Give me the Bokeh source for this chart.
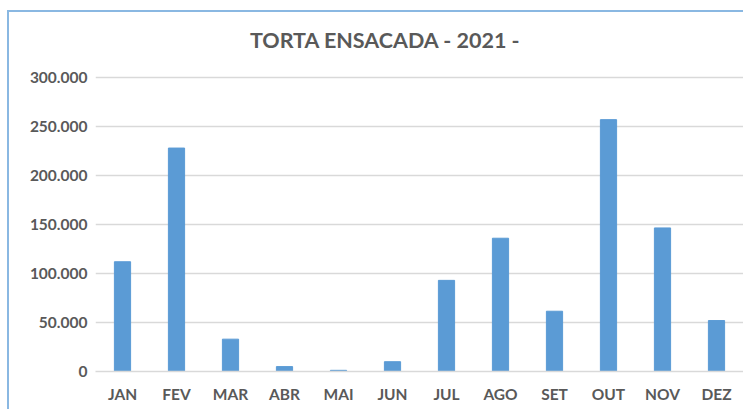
from bokeh.plotting import figure
from bokeh.models import FixedTicker, CustomJSTickFormatter, Range1d, Label
from bokeh.embed import file_html
from bokeh.resources import INLINE

months = ["JAN", "FEV", "MAR", "ABR", "MAI", "JUN", "JUL", "AGO", "SET", "OUT", "NOV", "DEZ"]
values = [112000, 228000, 33000, 5000, 1200, 10000, 93000, 136000, 61500, 257000, 146500, 52000]
y_ticks = [0, 50000, 100000, 150000, 200000, 250000, 300000]
title_text = "TORTA ENSACADA - 2021 -"

TEXT = "#595959"
FONT = "Lato"

# frame extends above the top gridline so the title can sit inside it
FRAME_H = 359
AXIS_TOP_PX = 294  # pixels between 0 and the top tick
y_end = y_ticks[-1] * FRAME_H / AXIS_TOP_PX

p = figure(x_range=months, y_range=Range1d(0, y_end), width=736, height=399,
           output_backend="svg", toolbar_location=None,
           min_border_left=86, min_border_right=2, min_border_top=0, min_border_bottom=40)
p.styles = {"margin-left": "7px", "margin-top": "10px",
            "border-left": "2px solid #8ab8e2", "border-top": "2px solid #8ab8e2"}
p.vbar(x=months, top=values, width=0.3, color="#5b9bd5")

title = Label(x=5.37, y=y_ticks[-1], y_offset=38, text=title_text,
              text_align="center", text_baseline="middle",
              text_font=FONT, text_font_size="21.5px", text_font_style="bold",
              text_color=TEXT)
p.add_layout(title)

p.outline_line_color = None
p.xgrid.grid_line_color = None
p.ygrid.grid_line_color = "#d9d9d9"
p.ygrid.grid_line_width = 1.5

p.yaxis.ticker = FixedTicker(ticks=y_ticks)
p.yaxis.formatter = CustomJSTickFormatter(code="return tick.toFixed(0).replace(/\\B(?=(\\d{3})+(?!\\d))/g, '.');")
p.yaxis.axis_line_color = None
p.yaxis.major_tick_line_color = None
p.yaxis.minor_tick_line_color = None
p.yaxis.major_tick_out = 0
p.yaxis.major_tick_in = 0
p.yaxis.major_label_standoff = 8

p.xaxis.axis_line_color = "#d9d9d9"
p.xaxis.axis_line_width = 1.5
p.xaxis.major_tick_line_color = None
p.xaxis.minor_tick_line_color = None
p.xaxis.major_tick_out = 0
p.xaxis.major_tick_in = 0
p.xaxis.major_label_standoff = 13

for ax in (p.xaxis[0], p.yaxis[0]):
    ax.major_label_text_font = FONT
    ax.major_label_text_font_size = "15.5px"
    ax.major_label_text_font_style = "bold"
    ax.major_label_text_color = TEXT

p.x_range.range_padding = 0

open("out.html", "w").write(file_html(p, INLINE))
